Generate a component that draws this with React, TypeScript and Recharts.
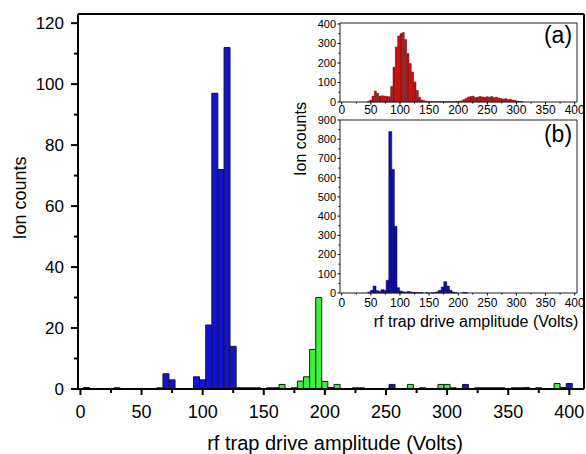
import React from "react";
import { ComposedChart, Bar, Line, XAxis, YAxis, Label } from "recharts";

const FONT = "'Liberation Sans', Arial, Helvetica, sans-serif";

// ---------- main histogram (5 V bins) ----------
const mainVolts = [5, 30, 65, 70, 75, 95, 100, 105, 110, 115, 120, 125, 130, 135, 140, 145, 155, 160, 165, 175, 180, 185, 190, 195, 200, 205, 210, 225, 230, 255, 270, 280, 295, 300, 305, 315, 325, 330, 335, 340, 345, 355, 360, 365, 375, 390, 395, 400];
const mainBlue = [0.5, 0.4, 0.4, 5, 3, 4, 3, 21, 97, 72, 112, 14, 0.4, 0.4, 0.4, 0.4, 0.4, 0.4, 0, 0.4, 0, 0, 0, 0, 0, 0, 0, 0.4, 0.4, 1.5, 0, 0.4, 0, 0, 0.4, 1.5, 0.4, 0, 0, 0, 0, 0, 0, 0.5, 0.4, 0, 0, 1.8];
const mainGreen = [0, 0, 0, 0, 0, 0, 0, 0, 0, 0, 0, 0, 0, 0, 0, 0, 0, 0, 1.5, 0, 2.6, 4, 13, 30, 2.5, 0.5, 1.5, 0, 0, 0, 1.5, 0, 1.5, 1.5, 0, 0, 0, 0.4, 0.4, 0.4, 0.4, 0.4, 0.4, 0, 0, 1.8, 0.5, 0];
const mainXTicks = [0, 25, 50, 75, 100, 125, 150, 175, 200, 225, 250, 275, 300, 325, 350, 375, 400];
const mainYTicks = [0, 10, 20, 30, 40, 50, 60, 70, 80, 90, 100, 110, 120];

// ---------- inset (a) (4 V bins) ----------
const insetAVolts = [46, 50, 54, 58, 62, 66, 70, 74, 78, 82, 86, 90, 94, 98, 102, 106, 110, 114, 118, 122, 126, 130, 134, 138, 142, 146, 150, 154, 158, 162, 166, 170, 174, 178, 182, 186, 190, 194, 198, 202, 206, 210, 214, 218, 222, 226, 230, 234, 238, 242, 246, 250, 254, 258, 262, 266, 270, 274, 278, 282, 286, 290, 294, 298, 302, 306, 310];
const insetACounts = [3, 10, 30, 56, 45, 30, 32, 30, 28, 27, 80, 178, 282, 338, 350, 356, 320, 248, 197, 153, 102, 59, 24, 10, 7, 4, 3, 2, 2, 1, 2, 1, 2, 1, 2, 2, 1, 3, 3, 4, 6, 12, 18, 25, 28, 30, 22, 25, 28, 26, 24, 27, 25, 28, 22, 25, 20, 18, 15, 17, 12, 14, 10, 8, 5, 3, 2];
const insetXTicks = [0, 25, 50, 75, 100, 125, 150, 175, 200, 225, 250, 275, 300, 325, 350, 375, 400];
const insetAYTicks = [0, 50, 100, 150, 200, 250, 300, 350, 400];

// ---------- inset (b) (4.5 V bins) ----------
const insetBVolts = [47, 51.5, 56, 60.5, 65, 69.5, 74, 78.5, 83, 87.5, 92, 96.5, 101, 105.5, 110, 114.5, 119, 123.5, 128, 132.5, 137, 146, 155, 159.5, 164, 168.5, 173, 177.5, 182, 186.5, 191, 195.5, 209, 213.5];
const insetBCounts = [5, 14, 36, 12, 8, 17, 14, 66, 840, 643, 347, 28, 10, 6, 4, 8, 5, 3, 3, 2, 2, 2, 1, 2, 6, 14, 31, 59, 36, 14, 5, 2, 3, 2];
const insetBYTicks = [0, 50, 100, 150, 200, 250, 300, 350, 400, 450, 500, 550, 600, 650, 700, 750, 800, 850, 900];

const mainData = mainVolts.map((v, i) => ({ v, blue: mainBlue[i], green: mainGreen[i] }));
const insetAData = insetAVolts.map((v, i) => ({ v, n: insetACounts[i] }));
const insetBData = insetBVolts.map((v, i) => ({ v, n: insetBCounts[i] }));

type TickCfg = { step: number; major: number; minor: number; off: number; fs: number; sw: number };

function makeXTick(cfg: TickCfg) {
  return (props: any) => {
    const { x, y, payload } = props;
    const v = payload.value;
    const major = v % cfg.step === 0;
    return (
      <g>
        <line x1={x} x2={x} y1={y} y2={y + (major ? cfg.major : cfg.minor)} stroke="#000" strokeWidth={cfg.sw} />
        {major && (
          <text x={x} y={y + cfg.off} textAnchor="middle" fontSize={cfg.fs} fontFamily={FONT} fill="#000">
            {v}
          </text>
        )}
      </g>
    );
  };
}

function makeYTick(cfg: TickCfg) {
  return (props: any) => {
    const { x, y, payload } = props;
    const v = payload.value;
    const major = v % cfg.step === 0;
    return (
      <g>
        <line x1={x} x2={x - (major ? cfg.major : cfg.minor)} y1={y} y2={y} stroke="#000" strokeWidth={cfg.sw} />
        {major && (
          <text x={x - cfg.off} y={y} dy={cfg.fs * 0.35} textAnchor="end" fontSize={cfg.fs} fontFamily={FONT} fill="#000">
            {v}
          </text>
        )}
      </g>
    );
  };
}

const mainXTick = makeXTick({ step: 50, major: 6, minor: 4, off: 29, fs: 18, sw: 2 });
const mainYTick = makeYTick({ step: 20, major: 7, minor: 4, off: 14, fs: 17, sw: 2 });
const insetAXTick = makeXTick({ step: 50, major: 2.5, minor: 1.5, off: 11.5, fs: 12, sw: 1 });
const insetBXTick = makeXTick({ step: 50, major: 2.5, minor: 1.5, off: 14, fs: 12, sw: 1 });
const insetYTick = makeYTick({ step: 100, major: 2.5, minor: 1.5, off: 4, fs: 11, sw: 1 });

const textLabel = (x: number, y: number, text: string, fs: number, rotate = false, anchor = "middle") => () => (
  <text
    x={x}
    y={y}
    textAnchor={anchor}
    fontSize={fs}
    fontFamily={FONT}
    fill="#000"
    transform={rotate ? `rotate(-90 ${x} ${y})` : undefined}
  >
    {text}
  </text>
);

const mainLine = { stroke: "#000", strokeWidth: 2 };
const insetLine = { stroke: "#222", strokeWidth: 1 };

export default function App() {
  return (
    <div style={{ position: "absolute", left: 0, top: 0, width: 586, height: 454, background: "#fff" }}>
      <div style={{ position: "absolute", left: 0, top: 0 }}>
        <ComposedChart width={586} height={454} data={mainData} margin={{ top: 13, right: 1, left: 0, bottom: 0 }} barCategoryGap={0} barGap={0}>
          <XAxis
            dataKey="v"
            type="number"
            domain={[-2, 412]}
            ticks={mainXTicks}
            interval={0}
            tickSize={0}
            tickMargin={0}
            tickLine={false}
            axisLine={mainLine}
            tick={mainXTick}
            height={65}
          >
            <Label content={textLabel(335, 450, "rf trap drive amplitude (Volts)", 20)} />
          </XAxis>
          <XAxis xAxisId="top" dataKey="v" orientation="top" type="number" domain={[-2, 412]} ticks={[0]} tick={false} tickLine={false} axisLine={mainLine} height={1} />
          <YAxis
            type="number"
            domain={[0, 123]}
            ticks={mainYTicks}
            interval={0}
            tickSize={0}
            tickMargin={0}
            tickLine={false}
            axisLine={mainLine}
            tick={mainYTick}
            width={78}
          >
            <Label content={textLabel(26, 198, "Ion counts", 18, true)} />
          </YAxis>
          <YAxis yAxisId="right" orientation="right" type="number" domain={[0, 123]} ticks={[0]} tick={false} tickLine={false} axisLine={mainLine} width={1} />
          <Bar dataKey="blue" stackId="s" fill="#1212d4" stroke="#1a1a1a" strokeWidth={1} isAnimationActive={false} />
          <Bar dataKey="green" stackId="s" fill="#3cf03c" stroke="#1a1a1a" strokeWidth={1} isAnimationActive={false} />
          <Line xAxisId="top" yAxisId="right" dataKey="blue" stroke="none" dot={false} activeDot={false} isAnimationActive={false} />
        </ComposedChart>
      </div>

      <div style={{ position: "absolute", left: 290, top: 0 }}>
        <ComposedChart width={296} height={130} data={insetAData} margin={{ top: 22, right: 8, left: 0, bottom: 0 }} barCategoryGap={0}>
          <XAxis
            dataKey="v"
            type="number"
            domain={[-3, 404]}
            ticks={insetXTicks}
            interval={0}
            tickSize={0}
            tickMargin={0}
            tickLine={false}
            axisLine={insetLine}
            tick={insetAXTick}
            height={28}
          />
          <XAxis xAxisId="top" dataKey="v" orientation="top" type="number" domain={[-3, 404]} ticks={[0]} tick={false} tickLine={false} axisLine={insetLine} height={1}>
            <Label content={textLabel(268, 43, "(a)", 23)} />
          </XAxis>
          <YAxis
            type="number"
            domain={[0, 405]}
            ticks={insetAYTicks}
            interval={0}
            tickSize={0}
            tickMargin={0}
            tickLine={false}
            axisLine={insetLine}
            tick={insetYTick}
            width={50}
          />
          <YAxis yAxisId="right" orientation="right" type="number" domain={[0, 405]} ticks={[0]} tick={false} tickLine={false} axisLine={insetLine} width={1} />
          <Bar dataKey="n" fill="#cc1111" stroke="#5a0000" strokeWidth={0.5} isAnimationActive={false} />
          <Line xAxisId="top" yAxisId="right" dataKey="n" stroke="none" dot={false} activeDot={false} isAnimationActive={false} />
        </ComposedChart>
      </div>

      <div style={{ position: "absolute", left: 290, top: 100 }}>
        <ComposedChart width={296} height={240} data={insetBData} margin={{ top: 19, right: 8, left: 0, bottom: 0 }} barCategoryGap={0}>
          <XAxis
            dataKey="v"
            type="number"
            domain={[-3, 404]}
            ticks={insetXTicks}
            interval={0}
            tickSize={0}
            tickMargin={0}
            tickLine={false}
            axisLine={insetLine}
            tick={insetBXTick}
            height={47}
          >
            <Label content={textLabel(186, 227, "rf trap drive amplitude (Volts)", 16)} />
          </XAxis>
          <XAxis xAxisId="top" dataKey="v" orientation="top" type="number" domain={[-3, 404]} ticks={[0]} tick={false} tickLine={false} axisLine={insetLine} height={1}>
            <Label content={textLabel(268, 42, "(b)", 23)} />
          </XAxis>
          <YAxis
            type="number"
            domain={[0, 900]}
            ticks={insetBYTicks}
            interval={0}
            tickSize={0}
            tickMargin={0}
            tickLine={false}
            axisLine={insetLine}
            tick={insetYTick}
            width={50}
          >
            <Label content={textLabel(16, 39, "Ion counts", 16, true)} />
          </YAxis>
          <YAxis yAxisId="right" orientation="right" type="number" domain={[0, 900]} ticks={[0]} tick={false} tickLine={false} axisLine={insetLine} width={1} />
          <Bar dataKey="n" fill="#12129e" stroke="#000050" strokeWidth={0.5} isAnimationActive={false} />
          <Line xAxisId="top" yAxisId="right" dataKey="n" stroke="none" dot={false} activeDot={false} isAnimationActive={false} />
        </ComposedChart>
      </div>
    </div>
  );
}
